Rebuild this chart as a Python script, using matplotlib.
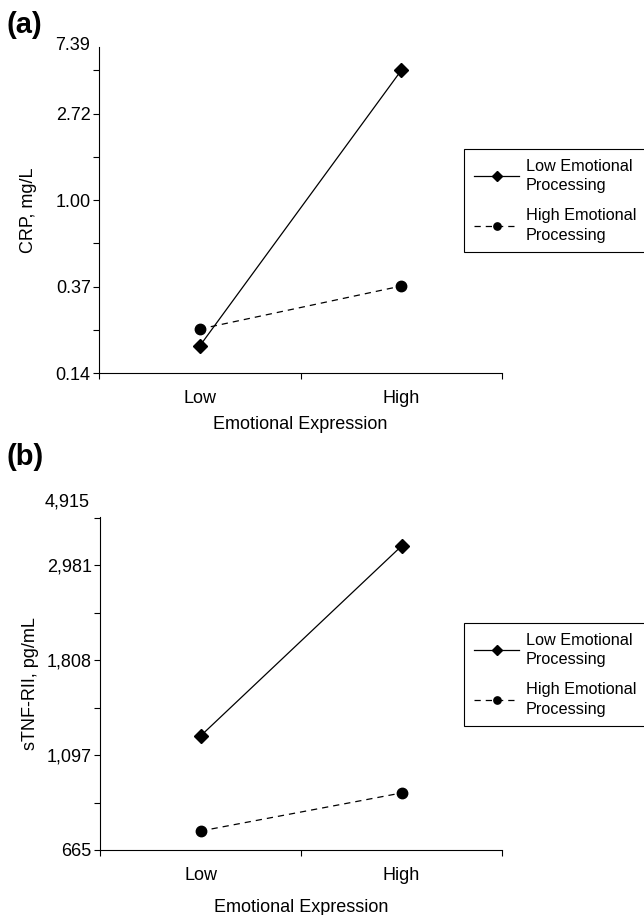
import numpy as np
import matplotlib
matplotlib.use("Agg")
import matplotlib.pyplot as plt

plt.rcParams['font.family'] = ['Liberation Sans', 'DejaVu Sans']

groups = ["Low", "High"]
series_names = ["Low Emotional\nProcessing", "High Emotional\nProcessing"]

# CRP, mg/L (panel a)
crp_low_ep = [0.185, 4.48]
crp_high_ep = [0.225, 0.37]

# sTNF-RII, pg/mL (panel b)
tnf_low_ep = [1212, 3294]
tnf_high_ep = [735, 898]

crp_ticks = ["0.14", "0.37", "1.00", "2.72"]
tnf_ticks = ["665", "1,097", "1,808", "2,981"]

fig = plt.figure(figsize=(6.44, 9.15), dpi=100)
W, H = 644.0, 915.0
FS = 13


def panel(rect, lo_ep, hi_ep, ln_lo, ln_hi, step, ticklabels, toplabel, top_y,
          ylabel, ylabel_x, xlabelpad, letter, letter_y, legend_top):
    left, top, right, bottom = rect
    ax = fig.add_axes([left / W, 1 - bottom / H, (right - left) / W, (bottom - top) / H])
    x = np.arange(len(groups))
    ax.plot(x, lo_ep, color='black', lw=0.9, ls='-', marker='D', ms=7,
            label=series_names[0])
    ax.plot(x, hi_ep, color='black', lw=0.9, ls=(0, (5, 4)), marker='o', ms=7.5,
            label=series_names[1])
    ax.set_yscale('log', base=np.e)
    ax.set_ylim(np.exp(ln_lo), np.exp(ln_hi))
    ax.set_xlim(-0.5, 1.5)

    major = np.exp(ln_lo + step * np.arange(len(ticklabels)))
    ax.set_yticks(major)
    ax.set_yticklabels(ticklabels)
    minor = np.exp(np.arange(ln_lo + step / 2, ln_hi, step))
    ax.set_yticks(minor, minor=True)
    ax.yaxis.set_minor_formatter(matplotlib.ticker.NullFormatter())
    ax.tick_params(axis='y', which='both', direction='out', length=4.5, width=0.8,
                   labelsize=FS, pad=1.5, colors='black')

    ax.set_xticks([-0.5, 0.5, 1.5])
    ax.set_xticklabels([])
    ax.set_xticks(x, minor=True)
    ax.set_xticklabels(groups, minor=True)
    ax.tick_params(axis='x', which='major', direction='out', length=4.5, width=0.8)
    ax.tick_params(axis='x', which='minor', length=0, labelsize=FS, pad=12)

    for s in ['top', 'right']:
        ax.spines[s].set_visible(False)
    for s in ['left', 'bottom']:
        ax.spines[s].set_linewidth(0.8)

    fig.text(90 / W, 1 - top_y / H, toplabel, ha='right', va='center', fontsize=FS)
    ax.set_xlabel("Emotional Expression", fontsize=FS, labelpad=xlabelpad)
    ax.set_ylabel(ylabel, fontsize=FS)
    ax.yaxis.set_label_coords((ylabel_x + 9 - left) / (right - left), 0.5)
    fig.text(6 / W, 1 - letter_y / H, letter, fontsize=21, fontweight='bold',
             ha='left', va='center')

    leg = ax.legend(loc='upper left', bbox_to_anchor=(464 / W, 1 - legend_top / H),
                    bbox_transform=fig.transFigure, borderaxespad=0, fancybox=False,
                    edgecolor='black', fontsize=11.7, handlelength=2.8, handletextpad=0.4,
                    labelspacing=0.95, borderpad=0.6, markerscale=0.7, framealpha=1)
    for t in leg.get_texts():
        t.set_linespacing(1.35)
    leg.get_frame().set_linewidth(0.8)
    return ax


panel((99, 47, 502, 373), crp_low_ep, crp_high_ep, -2.0, 1.77, 1.0,
      crp_ticks, "7.39", 45, "CRP, mg/L", 28, 7, "(a)", 25, 149)
panel((100, 517, 502, 850), tnf_low_ep, tnf_high_ep, 6.5, 8.253, 0.5,
      tnf_ticks, "4,915", 502, "sTNF-RII, pg/mL", 30, 11, "(b)", 457, 623)

fig.savefig("out.png", dpi=100)
